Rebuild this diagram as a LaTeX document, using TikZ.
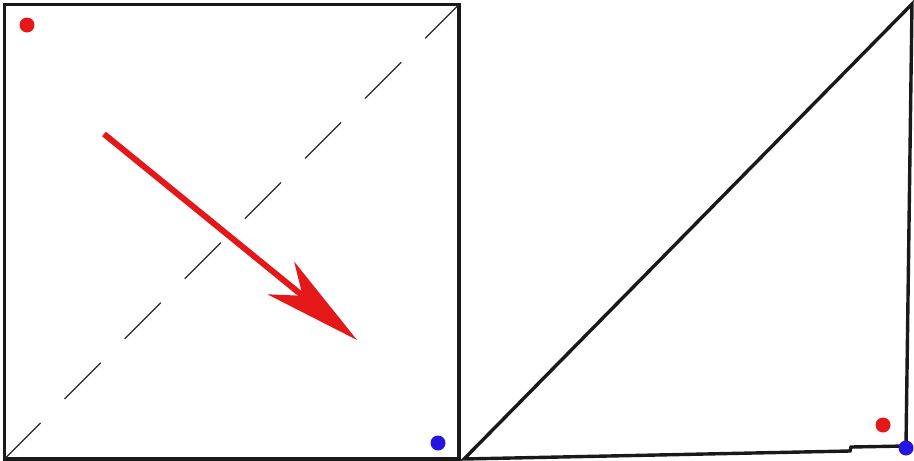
\documentclass[tikz,border=0pt]{standalone}
\usetikzlibrary{arrows.meta}
\definecolor{dotred}{RGB}{228,24,24}
\definecolor{dotblue}{RGB}{40,20,225}
\begin{document}
\begin{tikzpicture}[x=1pt,y=-1pt,
  frame/.style={line width=3.4pt,black!90,line join=miter},
  diag/.style={line width=1.2pt,black!85,dash pattern=on 51pt off 34pt},
  dot/.style={circle,inner sep=0pt,minimum size=15pt},
  move/.style={line width=6pt,dotred,-{Stealth[length=98pt,width=42pt,inset=28pt]}}]
\useasboundingbox (0,0) rectangle (914,461);
% left square
\coordinate (sqa) at (4.5,459);
\coordinate (sqb) at (459,459);
\coordinate (sqc) at (459,4.5);
\coordinate (sqd) at (4.5,4.5);
\draw[frame] (sqa) -- (sqb) -- (sqc) -- (sqd) -- cycle;
\draw[diag] (sqa) -- (sqc);
\node[dot,fill=dotred] (redl) at (27,25) {};
\node[dot,fill=dotblue] (bluel) at (438,443) {};
% arrow
\coordinate (mvs) at (104,134);
\coordinate (mve) at (357,340);
\draw[move] (mvs) -- (mve);
% right triangle
\coordinate (tra) at (464,459);
\coordinate (trb) at (850,451);
\coordinate (trc) at (906,446);
\coordinate (trd) at (912,4);
\draw[frame] (tra) -- (trb) -- (851,447) -- (trc) -- (trd) -- cycle;
\node[dot,fill=dotred] (redr) at (883,425) {};
\node[dot,fill=dotblue] (bluer) at (906,448) {};
\end{tikzpicture}
\end{document}
